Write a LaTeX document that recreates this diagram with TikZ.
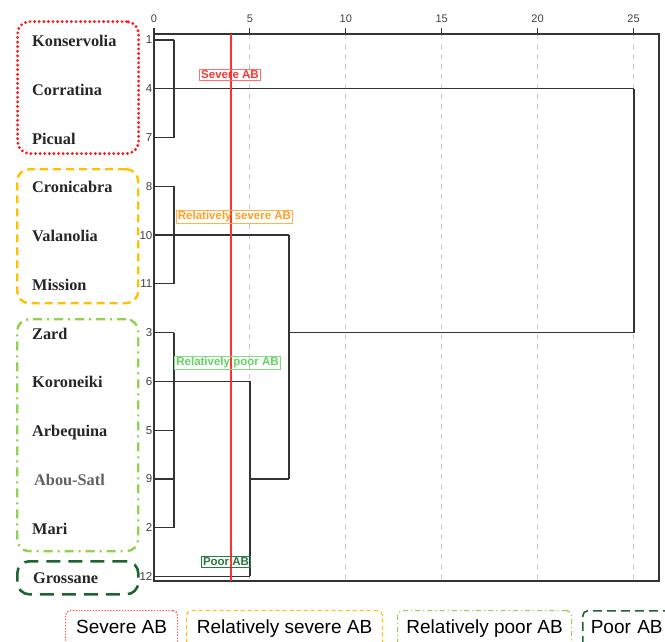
\documentclass[tikz,border=0pt]{standalone}
\usepackage{fontspec}
\setmainfont{Liberation Serif}
\newfontfamily\arialf{Liberation Sans}
\definecolor{cred}{HTML}{FF1A1A}
\definecolor{corange}{HTML}{FFC000}
\definecolor{clgreen}{HTML}{92D050}
\definecolor{cdgreen}{HTML}{1E6432}
\definecolor{tred}{HTML}{FF3434}
\definecolor{torange}{HTML}{FFA020}
\definecolor{tlgreen}{HTML}{62D462}
\definecolor{tdgreen}{HTML}{2A7842}
\definecolor{dend}{HTML}{333333}
\begin{document}
\begin{tikzpicture}[x=1pt,y=-1pt,
  namelbl/.style={anchor=west,inner sep=0pt,text height=11pt,text depth=0pt,font=\fontsize{16.3}{18}\selectfont\bfseries,text=black!85},
  rownum/.style={anchor=east,inner sep=0pt,font=\arialf\fontsize{11.5}{12}\selectfont,text=black!75},
  axnum/.style={inner sep=0pt,font=\arialf\fontsize{11}{12}\selectfont,text=black!75},
  grpbox/.style={draw,rounded corners=12pt,line width=2.4pt,minimum width=121pt,anchor=north west,inner sep=0pt},
  cutlbl/.style={draw,inner xsep=1.5pt,inner ysep=1.5pt,line width=0.8pt,font=\arialf\fontsize{11.5}{12}\selectfont\bfseries},
  legbox/.style={draw,rounded corners=5pt,line width=1.2pt,anchor=north west,inner xsep=0pt,inner ysep=7pt,text height=16pt,text depth=10pt,font=\arialf\fontsize{19}{22}\selectfont},
  dline/.style={draw=dend,line width=1.2pt},
  grid/.style={draw=black!22,line width=0.9pt,dash pattern=on 5pt off 5pt}
]
\useasboundingbox (0,0) rectangle (665,641);
\clip (0,0) rectangle (665,641);
% rows
\foreach \n/\k in {1/0,4/1,7/2,8/3,10/4,11/5,3/6,6/7,5/8,9/9,2/10,12/11}{
  \coordinate (r\n) at (154,{40+48.77*\k});
  \coordinate (e\n) at (174,{40+48.77*\k});
  \node[rownum] (n\n) at (152.5,{40+48.77*\k}) {\n};
}
% grid
\foreach \d in {5,10,15,20,25}{
  \coordinate (gt\d) at ({154+19.18*\d},34);
  \coordinate (gb\d) at ({154+19.18*\d},581);
  \draw[grid] (gt\d) -- (gb\d);
}
% frame and axis
\coordinate (ftl) at (154,34);
\coordinate (fbr) at (659,581);
\draw[draw=dend,line width=1.1pt] (ftl) rectangle (fbr);
\foreach \d in {0,5,10,15,20,25}{
  \coordinate (t\d) at ({154+19.18*\d},34);
  \coordinate (tt\d) at ({154+19.18*\d},28);
  \draw[draw=dend,line width=1.1pt] (t\d) -- (tt\d);
  \node[axnum] (a\d) at ({154+19.18*\d},19) {\d};
}
% dendrogram leaves
\foreach \n in {1,4,7,8,10,11,3,6,5,9,2}{ \draw[dline] (r\n) -- (e\n); }
\draw[dline] (e1) -- (e7);
\draw[dline] (e8) -- (e11);
\draw[dline] (e3) -- (e2);
% junction coordinates
\coordinate (j5a) at (250,{40+48.77*7});
\coordinate (j5b) at (250,{40+48.77*11});
\coordinate (j5c) at (250,{40+48.77*9});
\coordinate (j7a) at (289,{40+48.77*4});
\coordinate (j7b) at (289,{40+48.77*9});
\coordinate (j7c) at (289,{40+48.77*6});
\coordinate (j25a) at (634,{40+48.77*1});
\coordinate (j25b) at (634,{40+48.77*6});
\draw[dline] (e10) -- (j7a);
\draw[dline] (e6) -- (j5a);
\draw[dline] (r12) -- (j5b);
\draw[dline] (j5a) -- (j5b);
\draw[dline] (j5c) -- (j7b);
\draw[dline] (j7a) -- (j7b);
\draw[dline] (j7c) -- (j25b);
\draw[dline] (e4) -- (j25a);
\draw[dline] (j25a) -- (j25b);
% red cut line
\coordinate (cut1) at (231,34);
\coordinate (cut2) at (231,581);
\draw[draw=cred!90,line width=2.8pt] (cut1) -- (cut2);
% cut labels
\node[cutlbl,draw=tred!70,text=tred] (lsev) at (230,75) {Severe AB};
\node[cutlbl,draw=torange!80,text=torange] (lrsev) at (234.5,217) {Relatively severe AB};
\node[cutlbl,draw=tlgreen!80,text=tlgreen] (lrpoor) at (227.5,363) {Relatively poor AB};
\node[cutlbl,draw=tdgreen,text=tdgreen] (lpoor) at (226,562) {Poor AB};
% names
\node[namelbl] (m1) at (32,41) {Konservolia};
\node[namelbl] (m4) at (32,89.8) {Corratina};
\node[namelbl] (m7) at (32,138.5) {Picual};
\node[namelbl] (m8) at (32,187.3) {Cronicabra};
\node[namelbl] (m10) at (32,236.1) {Valanolia};
\node[namelbl] (m11) at (32,284.9) {Mission};
\node[namelbl] (m3) at (32,333.6) {Zard};
\node[namelbl] (m6) at (32,382.4) {Koroneiki};
\node[namelbl] (m5) at (32,431.2) {Arbequina};
\node[namelbl,text=black!62] (m9) at (34,479.9) {Abou-Satl};
\node[namelbl] (m2) at (32,528.7) {Mari};
\node[namelbl] (m12) at (33,578) {Grossane};
% group boxes
\node[grpbox,draw=cred,dash pattern=on 0pt off 4.6pt,line cap=round,line width=3.2pt,minimum height=132pt] (gsev) at (16,20) {};
\node[grpbox,draw=corange,dash pattern=on 8pt off 5pt,minimum height=134pt] (grsev) at (16,168) {};
\node[grpbox,draw=clgreen,dash pattern=on 9pt off 5pt on 2pt off 5pt,minimum height=232pt] (grpoor) at (16,318) {};
\node[grpbox,draw=cdgreen,dash pattern=on 14pt off 8pt,line width=2.6pt,minimum height=33pt] (gpoor) at (16,560) {};
% legend
\node[legbox,draw=cred!75,dash pattern=on 1.3pt off 1.6pt,minimum width=112pt] (leg1) at (65,610) {Severe AB};
\node[legbox,draw=corange,dash pattern=on 4pt off 3pt,minimum width=196pt] (leg2) at (186,610) {Relatively severe AB};
\node[legbox,draw=clgreen,dash pattern=on 5pt off 3pt on 1.2pt off 3pt,minimum width=174pt] (leg3) at (397,610) {Relatively poor AB};
\node[legbox,draw=cdgreen,line width=1.6pt,dash pattern=on 9pt off 5pt,inner xsep=8pt,text width=120pt,align=left] (leg4) at (582,610) {Poor AB};
\end{tikzpicture}
\end{document}
